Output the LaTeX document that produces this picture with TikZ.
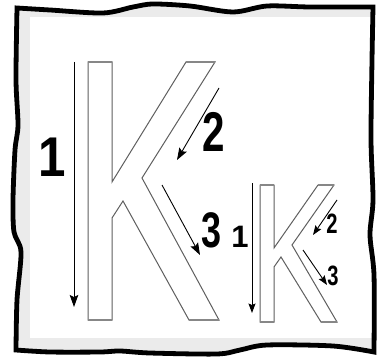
\documentclass[tikz,border=0pt]{standalone}
\usepackage{fontspec}
\setmainfont{Liberation Sans}
\usetikzlibrary{arrows.meta,positioning,calc}
\definecolor{panelgray}{RGB}{235,235,235}
\definecolor{kedge}{RGB}{95,95,95}
\definecolor{kbase}{RGB}{135,135,135}
\newcommand{\narrow}[1]{\scalebox{0.72}[1]{#1}}
\newcommand{\framepath}{plot[smooth] coordinates {(17,8) (50,10) (103,13) (133,7) (153,4) (190,6) (233,12) (267,6) (310,7) (373,7)}
  -- plot[smooth] coordinates {(373,7) (372,60) (371,140) (373,200) (370,235) (374,275) (374,352)}
  -- plot[smooth] coordinates {(374,352) (333,346) (267,345) (240,350) (217,354) (150,353) (120,351) (100,352) (50,352) (16,350)}
  -- plot[smooth] coordinates {(16,350) (17,300) (21,252) (14,232) (13,200) (15,150) (18,125) (16,80) (17,8)} -- cycle}

\begin{document}
\begin{tikzpicture}[x=1pt, y=-1pt, >={Stealth[length=12pt,width=8.5pt,inset=2pt]},
    kline/.style={draw=kedge, line width=1pt, line join=miter, fill=white},
    kflat/.style={draw=kbase, line width=2.4pt},
    arr/.style={->, line width=0.9pt},
    sarr/.style={-{Stealth[length=9.5pt,width=7pt,inset=1.5pt]}, line width=0.9pt},
    bignum/.style={font=\fontsize{56}{60}\selectfont\bfseries, inner sep=0pt},
    smallnum/.style={font=\fontsize{28}{32}\selectfont\bfseries, inner sep=0pt}]
    \useasboundingbox (0,0) rectangle (387,358);
    % frame
    \fill[panelgray] \framepath;
    \begin{scope}
        \clip \framepath;
        \fill[white] (30,17) rectangle (385,338);
    \end{scope}
    \draw[line width=4.8pt, line join=miter] \framepath;
    % big K
    \draw[kline] (88,62) -- (112,62) -- (112,182) -- (186,62) -- (215,62) -- (142,178) -- (219,320)
        -- (189,320) -- (123,201) -- (112,218) -- (112,320) -- (88,320) -- cycle;
    \draw[kflat] (88,62) -- (112,62) (186,62) -- (215,62) (189,320) -- (219,320) (88,320) -- (112,320);
    % small K
    \draw[kline] (260,185) -- (274,185) -- (274,248) -- (318,185) -- (334,185) -- (292,245) -- (337,322)
        -- (321,322) -- (281,257) -- (274,267) -- (274,322) -- (260,322) -- cycle;
    \draw[kflat] (260,185) -- (274,185) (318,185) -- (334,185) (321,322) -- (337,322) (260,322) -- (274,322);
    % strokes of the big K
    \coordinate (bstemtop) at (74,62);
    \coordinate (bstemend) at (74,307);
    \coordinate (barmtop) at (219,88);
    \coordinate (barmend) at (177,160);
    \coordinate (blegtop) at (162,185);
    \coordinate (blegend) at (200,255);
    \draw[arr] (bstemtop) -- (bstemend);
    \draw[arr] (barmtop) -- (barmend);
    \draw[arr] (blegtop) -- (blegend);
    \node[bignum] (bone) at (52,157) {\scalebox{0.88}[1]{1}};
    \node[bignum] (btwo) at (214,132) {\narrow{2}};
    \node[bignum, font=\fontsize{50}{54}\selectfont\bfseries] (bthree) at (212,230) {\narrow{3}};
    % strokes of the small K
    \coordinate (sstemtop) at (252,183);
    \coordinate (sstemend) at (252,313);
    \coordinate (sarmtop) at (337,200);
    \coordinate (sarmend) at (313,235);
    \coordinate (slegtop) at (303,250);
    \coordinate (slegend) at (327,285);
    \draw[sarr] (sstemtop) -- (sstemend);
    \draw[sarr] (sarmtop) -- (sarmend);
    \draw[sarr] (slegtop) -- (slegend);
    \node[smallnum, font=\fontsize{31}{34}\selectfont\bfseries] (sone) at (240,237) {1};
    \node[smallnum] (stwo) at (332,224) {\narrow{2}};
    \node[smallnum] (sthree) at (333,276) {\narrow{3}};
\end{tikzpicture}
\end{document}
